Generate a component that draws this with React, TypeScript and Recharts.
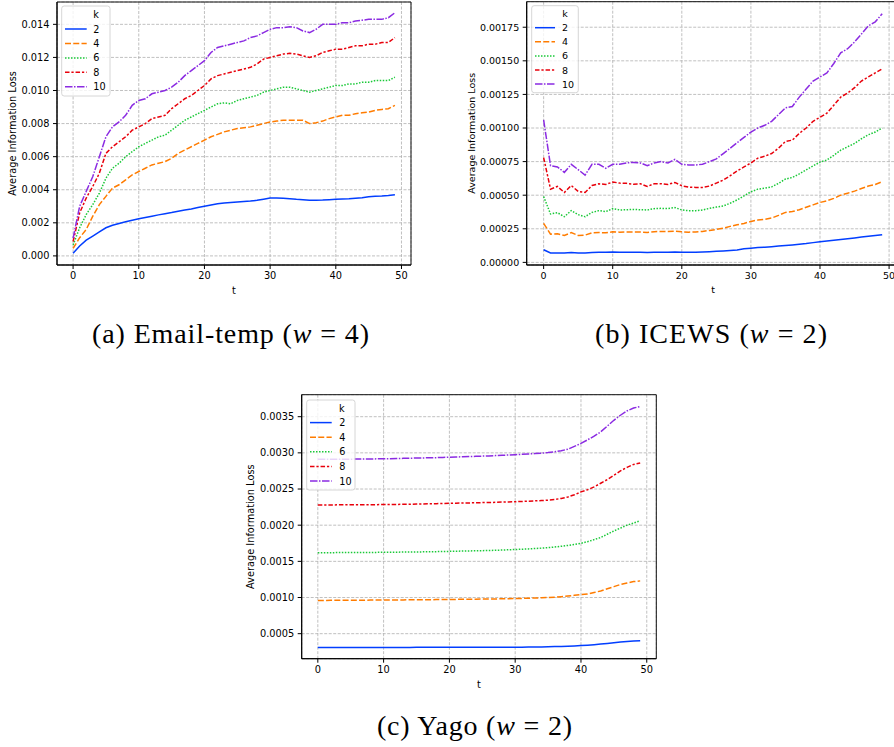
import React from 'react';
import { LineChart, Line, XAxis, YAxis, CartesianGrid, ReferenceArea } from 'recharts';

// ---------- data ----------
const tValues = [
  0, 1, 2, 3, 4, 5, 6, 7, 8, 9, 10, 11, 12, 13, 14, 15, 16, 17, 18, 19,
  20, 21, 22, 23, 24, 25, 26, 27, 28, 29, 30, 31, 32, 33, 34, 35, 36, 37, 38, 39,
  40, 41, 42, 43, 44, 45, 46, 47, 48, 49,
];
const kLabels = ['2', '4', '6', '8', '10'];
const xTicks = [0, 10, 20, 30, 40, 50];

// (a) Email-temp
const emailK2 = [
  0.00016, 0.0006, 0.00095, 0.0012, 0.00145, 0.0017, 0.00185, 0.00196, 0.00206, 0.00215,
  0.00224, 0.00232, 0.0024, 0.00248, 0.00255, 0.00262, 0.0027, 0.00277, 0.00284, 0.00292,
  0.003, 0.00308, 0.00315, 0.0032, 0.00323, 0.00326, 0.00329, 0.00332, 0.00336, 0.00343,
  0.0035, 0.0035, 0.00348, 0.00345, 0.00342, 0.0034, 0.00337, 0.00337, 0.00338, 0.0034,
  0.00342, 0.00344, 0.00346, 0.00349, 0.00352, 0.00357, 0.0036, 0.00362, 0.00365, 0.0037,
];
const emailK4 = [
  0.00045, 0.0011, 0.0016, 0.0024, 0.0031, 0.0036, 0.0041, 0.0043, 0.0046, 0.0049,
  0.0051, 0.0053, 0.0055, 0.0056, 0.0057, 0.0059, 0.0062, 0.0064, 0.0066, 0.0068,
  0.007, 0.0072, 0.00735, 0.0075, 0.0076, 0.0077, 0.00775, 0.0078, 0.0079, 0.008,
  0.0081, 0.00815, 0.0082, 0.0082, 0.0082, 0.0082, 0.008, 0.00805, 0.00815, 0.0083,
  0.0084, 0.0085, 0.0085, 0.0086, 0.00865, 0.0087, 0.0088, 0.00885, 0.0089, 0.0091,
];
const emailK6 = [
  0.00066, 0.0017, 0.0025, 0.0031, 0.0038, 0.0047, 0.0053, 0.0056, 0.006, 0.0063,
  0.0066, 0.0068, 0.007, 0.0072, 0.0073, 0.0076, 0.0079, 0.0082, 0.0084, 0.0086,
  0.0088, 0.009, 0.0092, 0.00925, 0.0092, 0.0094, 0.0095, 0.0096, 0.0097, 0.0099,
  0.01, 0.0101, 0.0102, 0.0102, 0.0101, 0.01, 0.0099, 0.01, 0.0101, 0.0102,
  0.0103, 0.0103, 0.0104, 0.0104, 0.0105, 0.0105, 0.0106, 0.0106, 0.0106, 0.0108,
];
const emailK8 = [
  0.00087, 0.0026, 0.0035, 0.0042, 0.005, 0.0062, 0.0066, 0.0069, 0.0072, 0.0076,
  0.0078, 0.008, 0.0083, 0.0084, 0.0085, 0.0089, 0.0092, 0.0095, 0.0097, 0.01,
  0.0103, 0.0107, 0.0109, 0.011, 0.0111, 0.0112, 0.0113, 0.0114, 0.0116, 0.0119,
  0.012, 0.0121, 0.0122, 0.01225, 0.0122, 0.0121, 0.012, 0.0121, 0.0123, 0.0124,
  0.0125, 0.0125, 0.0126, 0.0127, 0.0127, 0.0128, 0.0128, 0.0129, 0.0129, 0.0132,
];
const emailK10 = [
  0.00107, 0.003, 0.0039, 0.0048, 0.006, 0.0072, 0.0078, 0.0081, 0.0085, 0.0091,
  0.0094, 0.0095, 0.0098, 0.0099, 0.01, 0.0102, 0.0105, 0.0109, 0.0112, 0.0115,
  0.0118, 0.0123, 0.0126, 0.0127, 0.0128, 0.0129, 0.013, 0.0132, 0.0133, 0.0135,
  0.0137, 0.0138, 0.0138, 0.01385, 0.0138, 0.0136, 0.0135, 0.0137, 0.014, 0.014,
  0.014, 0.0141, 0.0141, 0.0142, 0.01425, 0.0143, 0.0143, 0.0143, 0.0144, 0.0147,
];

// (b) ICEWS
const icewsK2 = [
  0.000094, 0.00007, 0.00007, 0.00007, 0.000074, 0.00007, 0.00007, 0.000074, 0.000076, 0.000075,
  0.000077, 0.000076, 0.000076, 0.000075, 0.000075, 0.000074, 0.000075, 0.000076, 0.000076, 0.000077,
  0.000075, 0.000075, 0.000076, 0.000077, 0.000079, 0.000082, 0.000085, 0.000089, 0.000093, 0.000101,
  0.000106, 0.00011, 0.000113, 0.000117, 0.000121, 0.000126, 0.00013, 0.000135, 0.00014, 0.000147,
  0.000154, 0.000159, 0.000164, 0.00017, 0.000176, 0.000182, 0.000188, 0.000194, 0.0002, 0.000206,
];
const icewsK4 = [
  0.00029, 0.00021, 0.000213, 0.0002, 0.000222, 0.0002, 0.000203, 0.00022, 0.000222, 0.00022,
  0.000228, 0.000225, 0.000226, 0.000226, 0.000226, 0.000222, 0.000228, 0.00023, 0.000229, 0.000233,
  0.000228, 0.000225, 0.000226, 0.00023, 0.000238, 0.000245, 0.000255, 0.000268, 0.00028, 0.00029,
  0.000305, 0.000315, 0.00032, 0.00033, 0.00035, 0.000372, 0.000378, 0.000392, 0.00041, 0.000428,
  0.000446, 0.000458, 0.000476, 0.0005, 0.000515, 0.00053, 0.00055, 0.000568, 0.00058, 0.0006,
];
const icewsK6 = [
  0.00049, 0.00036, 0.00037, 0.00034, 0.000385, 0.000355, 0.00034, 0.000372, 0.000385, 0.000378,
  0.0004, 0.00039, 0.000392, 0.000394, 0.000392, 0.00039, 0.0004, 0.000402, 0.0004, 0.000408,
  0.00039, 0.000385, 0.000385, 0.00039, 0.000402, 0.000412, 0.00042, 0.00044, 0.000465, 0.000495,
  0.000525, 0.000545, 0.000552, 0.000562, 0.000588, 0.00062, 0.000632, 0.000658, 0.000688, 0.000718,
  0.000746, 0.000762, 0.000797, 0.000835, 0.00086, 0.000885, 0.00092, 0.00095, 0.00097, 0.001,
];
const icewsK8 = [
  0.00078, 0.000545, 0.000565, 0.00052, 0.000572, 0.000528, 0.00052, 0.000572, 0.000585, 0.00058,
  0.000598, 0.00059, 0.000588, 0.000582, 0.000585, 0.000565, 0.000585, 0.000585, 0.00058, 0.000595,
  0.00057, 0.00056, 0.000558, 0.000558, 0.000568, 0.00059, 0.000612, 0.000645, 0.00068, 0.00071,
  0.00074, 0.000775, 0.00079, 0.00081, 0.00085, 0.0009, 0.00091, 0.00096, 0.001, 0.00105,
  0.00108, 0.00111, 0.00117, 0.00123, 0.00126, 0.0013, 0.00135, 0.00138, 0.00141, 0.00144,
];
const icewsK10 = [
  0.00106, 0.00072, 0.00071, 0.00067, 0.00073, 0.00069, 0.00065, 0.00073, 0.00073, 0.0007,
  0.00073, 0.00073, 0.00074, 0.000744, 0.00074, 0.00072, 0.00074, 0.00075, 0.00074, 0.000766,
  0.00073, 0.000725, 0.000725, 0.00073, 0.00075, 0.00077, 0.00081, 0.00085, 0.00089, 0.00093,
  0.00097, 0.001, 0.00102, 0.00105, 0.0011, 0.00115, 0.00116, 0.00123, 0.00129, 0.00135,
  0.00138, 0.00141, 0.00148, 0.00156, 0.00159, 0.00164, 0.0017, 0.00176, 0.00179, 0.00185,
];

// (c) Yago
const yagoK2 = [
  0.00031, 0.00031, 0.00031, 0.00031, 0.00031, 0.00031, 0.00031, 0.00031, 0.00031, 0.00031,
  0.00031, 0.00031, 0.00031, 0.00031, 0.00031, 0.000311, 0.000311, 0.000311, 0.000311, 0.000311,
  0.000311, 0.000311, 0.000312, 0.000312, 0.000312, 0.000312, 0.000312, 0.000313, 0.000313, 0.000313,
  0.000313, 0.000314, 0.000315, 0.000316, 0.000317, 0.000319, 0.000321, 0.000323, 0.000326, 0.00033,
  0.000335, 0.000341, 0.000348, 0.000356, 0.000365, 0.000375, 0.000385, 0.000393, 0.000399, 0.000403,
];
const yagoK4 = [
  0.00096, 0.00096, 0.000961, 0.000961, 0.000962, 0.000962, 0.000963, 0.000963, 0.000964, 0.000964,
  0.000965, 0.000966, 0.000966, 0.000967, 0.000968, 0.000968, 0.000969, 0.00097, 0.000971, 0.000972,
  0.000973, 0.000974, 0.000975, 0.000976, 0.000977, 0.000978, 0.000979, 0.00098, 0.000982, 0.000984,
  0.000986, 0.000988, 0.00099, 0.000993, 0.000996, 0.001, 0.001005, 0.001012, 0.00102, 0.00103,
  0.00104, 0.00105, 0.00107, 0.00109, 0.00112, 0.00115, 0.00118, 0.0012, 0.00122, 0.00123,
];
const yagoK6 = [
  0.00162, 0.00162, 0.00162, 0.001621, 0.001621, 0.001622, 0.001622, 0.001623, 0.001623, 0.001624,
  0.001625, 0.001626, 0.001627, 0.001628, 0.001629, 0.00163, 0.001631, 0.001633, 0.001634, 0.001636,
  0.001638, 0.00164, 0.001642, 0.001644, 0.001646, 0.001648, 0.00165, 0.001653, 0.001656, 0.00166,
  0.001664, 0.001668, 0.001672, 0.001677, 0.001683, 0.00169, 0.001698, 0.001708, 0.00172, 0.001733,
  0.00175, 0.001772, 0.0018, 0.00183, 0.001875, 0.00192, 0.00196, 0.002, 0.00203, 0.00206,
];
const yagoK8 = [
  0.00228, 0.00228, 0.00228, 0.002281, 0.002281, 0.002282, 0.002282, 0.002283, 0.002283, 0.002284,
  0.002285, 0.002286, 0.002287, 0.002289, 0.00229, 0.002292, 0.002294, 0.002296, 0.002298, 0.0023,
  0.002302, 0.002304, 0.002306, 0.002308, 0.00231, 0.002312, 0.002314, 0.002316, 0.002319, 0.002322,
  0.002325, 0.002328, 0.002332, 0.002336, 0.00234, 0.002346, 0.002355, 0.00237, 0.00239, 0.00242,
  0.00246, 0.00249, 0.00253, 0.00258, 0.00263, 0.00269, 0.00275, 0.0028, 0.00284, 0.00286,
];
const yagoK10 = [
  0.00291, 0.00291, 0.00291, 0.002911, 0.002912, 0.002913, 0.002914, 0.002915, 0.002916, 0.002917,
  0.002918, 0.00292, 0.002922, 0.002924, 0.002926, 0.002928, 0.00293, 0.002932, 0.002934, 0.002937,
  0.00294, 0.002943, 0.002946, 0.002949, 0.002952, 0.002955, 0.002958, 0.002962, 0.002966, 0.00297,
  0.002975, 0.00298, 0.002985, 0.00299, 0.002996, 0.003004, 0.003015, 0.00303, 0.00305, 0.00309,
  0.00313, 0.00318, 0.00323, 0.00329, 0.00337, 0.00345, 0.00352, 0.00358, 0.00362, 0.00364,
];

const emailYTicks = [0, 0.002, 0.004, 0.006, 0.008, 0.01, 0.012, 0.014];
const icewsYTicks = [0, 0.00025, 0.0005, 0.00075, 0.001, 0.00125, 0.0015, 0.00175];
const yagoYTicks = [0.0005, 0.001, 0.0015, 0.002, 0.0025, 0.003, 0.0035];

const captionA = 'Email-temp';
const captionB = 'ICEWS';
const captionC = 'Yago';

// ---------- styles ----------
const seriesColors = ['#023eff', '#ff7c00', '#1ac938', '#e8000b', '#8b2be2'];
const seriesDashes = [undefined, '6 2.25', '1.5 1.5', '4.5 1.9 2.25 1.9', '7.5 1.5 1.5 1.5'];
const LW = 1.5;
const X_DOMAIN: [number, number] = [-2.45, 51.45];
const FONT = '"DejaVu Sans", sans-serif';
const SERIF = '"Liberation Serif", "DejaVu Serif", serif';

function buildRows(series: number[][]) {
  return tValues.map((t, i) => {
    const r: Record<string, number> = { t };
    series.forEach((s, j) => {
      r['k' + kLabels[j]] = s[i];
    });
    return r;
  });
}

type PanelProps = {
  left: number;
  top: number;
  width: number;
  height: number;
  margin: { top: number; right: number; bottom: number; left: number };
  yAxisWidth: number;
  xAxisHeight: number;
  yDomain: [number, number];
  yTicks: number[];
  yDigits: number;
  fontSize: number;
  rows: Record<string, number>[];
};

function Panel(p: PanelProps) {
  return (
    <div style={{ position: 'absolute', left: p.left, top: p.top, fontFamily: FONT }}>
      <LineChart width={p.width} height={p.height} data={p.rows} margin={p.margin}>
        <CartesianGrid stroke="#b0b0b0" strokeWidth={0.8} strokeDasharray="3 1.5" />
        <XAxis
          dataKey="t"
          type="number"
          domain={X_DOMAIN}
          ticks={xTicks}
          allowDataOverflow
          interval={0}
          height={p.xAxisHeight}
          tickSize={4}
          tickMargin={3}
          stroke="#000"
          tick={{ fontSize: p.fontSize, fill: '#000' }}
        />
        <YAxis
          type="number"
          domain={p.yDomain}
          ticks={p.yTicks}
          allowDataOverflow
          interval={0}
          width={p.yAxisWidth}
          tickSize={4}
          tickMargin={3.5}
          stroke="#000"
          tick={{ fontSize: p.fontSize, fill: '#000' }}
          tickFormatter={(v: number) => v.toFixed(p.yDigits)}
        />
        <ReferenceArea
          x1={X_DOMAIN[0]}
          x2={X_DOMAIN[1]}
          y1={p.yDomain[0]}
          y2={p.yDomain[1]}
          fill="none"
          fillOpacity={0}
          stroke="#111"
          strokeWidth={1}
          ifOverflow="visible"
        />
        {kLabels.map((k, j) => (
          <Line
            key={k}
            dataKey={'k' + k}
            type="linear"
            stroke={seriesColors[j]}
            strokeWidth={LW}
            strokeDasharray={seriesDashes[j]}
            dot={false}
            activeDot={false}
            isAnimationActive={false}
          />
        ))}
      </LineChart>
    </div>
  );
}

type LegendProps = {
  x: number;
  y: number;
  w: number;
  h: number;
  titleX: number;
  titleY: number;
  rowY: number;
  rowDy: number;
  sx1: number;
  sx2: number;
  lx: number;
  fontSize: number;
};

function LegendBox(l: LegendProps) {
  return (
    <g fontFamily={FONT} fontSize={l.fontSize} fill="#000">
      <rect x={l.x} y={l.y} width={l.w} height={l.h} rx={2.5} fill="#fff" fillOpacity={0.8} stroke="#cccccc" strokeWidth={0.8} />
      <text x={l.titleX} y={l.titleY} textAnchor="middle" dominantBaseline="central">k</text>
      {kLabels.map((k, j) => (
        <g key={k}>
          <line
            x1={l.sx1}
            x2={l.sx2}
            y1={l.rowY + j * l.rowDy}
            y2={l.rowY + j * l.rowDy}
            stroke={seriesColors[j]}
            strokeWidth={LW}
            strokeDasharray={seriesDashes[j]}
          />
          <text x={l.lx} y={l.rowY + j * l.rowDy} dominantBaseline="central">{k}</text>
        </g>
      ))}
    </g>
  );
}

function AxisLabels({ tx, ty, yx, yy, fontSize }: { tx: number; ty: number; yx: number; yy: number; fontSize: number }) {
  return (
    <g fontFamily={FONT} fontSize={fontSize} fill="#000">
      <text x={tx} y={ty} textAnchor="middle" dominantBaseline="central">t</text>
      <text x={yx} y={yy} textAnchor="middle" dominantBaseline="central" transform={`rotate(-90, ${yx}, ${yy})`}>
        Average Information Loss
      </text>
    </g>
  );
}

function Caption({ x, y, len, letter, name, w }: { x: number; y: number; len: number; letter: string; name: string; w: string }) {
  return (
    <text x={x} y={y} textAnchor="middle" fontFamily={SERIF} fontSize={28} fill="#000" textLength={len} lengthAdjust="spacing">
      ({letter}) {name} (<tspan fontStyle="italic">w</tspan> = {w})
    </text>
  );
}

export default function App() {
  const rowsA = buildRows([emailK2, emailK4, emailK6, emailK8, emailK10]);
  const rowsB = buildRows([icewsK2, icewsK4, icewsK6, icewsK8, icewsK10]);
  const rowsC = buildRows([yagoK2, yagoK4, yagoK6, yagoK8, yagoK10]);
  return (
    <div style={{ position: 'absolute', left: 0, top: 0, width: 894, height: 747, overflow: 'hidden', background: '#fff' }}>
      <Panel
        left={0}
        top={0}
        width={430}
        height={300}
        margin={{ top: 2, right: 19, bottom: 0, left: 0 }}
        yAxisWidth={57}
        xAxisHeight={35}
        yDomain={[-0.00055, 0.01535]}
        yTicks={emailYTicks}
        yDigits={3}
        fontSize={9.8}
        rows={rowsA}
      />
      <Panel
        left={450}
        top={0}
        width={460}
        height={300}
        margin={{ top: 1.7, right: 10.9, bottom: 0, left: 0 }}
        yAxisWidth={76.7}
        xAxisHeight={35}
        yDomain={[-0.0000195, 0.00194]}
        yTicks={icewsYTicks}
        yDigits={5}
        fontSize={9.5}
        rows={rowsB}
      />
      <Panel
        left={240}
        top={390}
        width={440}
        height={305}
        margin={{ top: 4.7, right: 23.7, bottom: 0, left: 0 }}
        yAxisWidth={61.7}
        xAxisHeight={36.3}
        yDomain={[0.000154, 0.003804]}
        yTicks={yagoYTicks}
        yDigits={4}
        fontSize={9.8}
        rows={rowsC}
      />
      <svg width={894} height={747} style={{ position: 'absolute', left: 0, top: 0, pointerEvents: 'none' }}>
        <LegendBox x={61.7} y={6} w={48.3} h={90} titleX={96} titleY={14.3} rowY={29} rowDy={14.45} sx1={65} sx2={86.7} lx={93.3} fontSize={9.7} />
        <LegendBox x={531.7} y={5.7} w={46.6} h={87} titleX={565} titleY={13.3} rowY={27.7} rowDy={14.1} sx1={535} sx2={555} lx={562} fontSize={9.5} />
        <LegendBox x={306.7} y={400} w={48.3} h={90} titleX={341.7} titleY={408.3} rowY={422.6} rowDy={14.6} sx1={310} sx2={331.7} lx={339.3} fontSize={9.7} />
        <AxisLabels tx={234} ty={290} yx={12.4} yy={133.5} fontSize={9.8} />
        <AxisLabels tx={713} ty={289.3} yx={471.7} yy={133.3} fontSize={9.5} />
        <AxisLabels tx={479} ty={684} yx={251} yy={526.7} fontSize={9.8} />
        <Caption x={230.5} y={343} len={277} letter="a" name={captionA} w="4" />
        <Caption x={711} y={343} len={232} letter="b" name={captionB} w="2" />
        <Caption x={474.5} y={735} len={195} letter="c" name={captionC} w="2" />
      </svg>
    </div>
  );
}
